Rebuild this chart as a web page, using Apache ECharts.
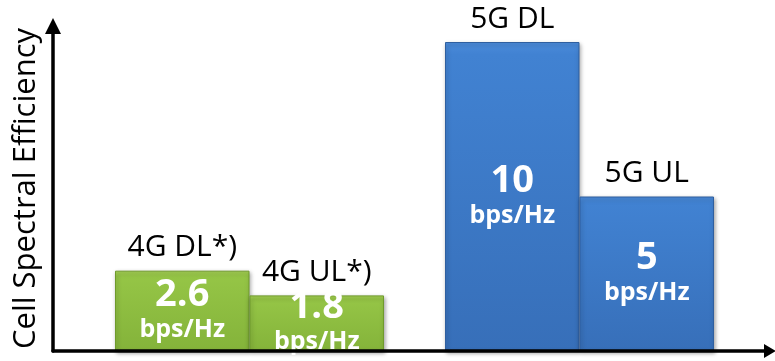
<!DOCTYPE html>
<html>
<head>
<meta charset="utf-8">
<script src="https://cdn.jsdelivr.net/npm/echarts@6/dist/echarts.min.js"></script>
<style>
  html, body { margin: 0; padding: 0; background: #fff; }
  #chart { width: 775px; height: 361px; }
</style>
</head>
<body>
<div id="chart"></div>
<script>
// Cell spectral efficiency, 4G vs 5G (bps/Hz)
const categories = ['4G DL*)', '4G UL*)', '5G DL', '5G UL'];
const efficiency = [2.6, 1.8, 10, 5];
const unit = 'bps/Hz';
const axisTitle = 'Cell Spectral Efficiency';

const FONT = 'Open Sans, DejaVu Sans, sans-serif';

const greenFill = new echarts.graphic.LinearGradient(0, 0, 0, 1, [
  { offset: 0, color: '#a6d255' },
  { offset: 0.07, color: '#95c546' },
  { offset: 1, color: '#84b33a' }
]);
const blueFill = new echarts.graphic.LinearGradient(0, 0, 0, 1, [
  { offset: 0, color: '#4c8cdb' },
  { offset: 0.04, color: '#4182d2' },
  { offset: 1, color: '#376fb9' }
]);

function hiddenCat(grid, data) {
  return { type: 'category', gridIndex: grid, data: data, show: false };
}
function hiddenVal(grid) {
  return { type: 'value', gridIndex: grid, min: 0, max: 10, show: false };
}

// on short bars, sit the value text on the x axis instead of hanging below it
function liftAboveAxis(params) {
  const barBottom = params.rect.y + params.rect.height + 3;
  const labelBottom = params.labelRect.y + params.labelRect.height;
  return { dy: Math.min(0, barBottom - labelBottom) };
}

function barPair(grid, names, vals, fill, edge) {
  return [
    {
      type: 'bar',
      xAxisIndex: grid, yAxisIndex: grid,
      data: vals,
      barCategoryGap: '0%',
      barGap: '-100%',
      itemStyle: {
        color: fill,
        borderColor: edge,
        borderWidth: 1,
        shadowColor: 'rgba(0,0,0,0.35)',
        shadowBlur: 4,
        shadowOffsetX: 1,
        shadowOffsetY: 2
      },
      label: {
        show: true,
        position: 'inside',
        formatter: p => '{v|' + p.value + '}\n{u|' + unit + '}',
        rich: {
          v: { color: '#fff', fontSize: 38, fontWeight: 'bold', fontFamily: FONT, lineHeight: 38 },
          u: { color: '#fff', fontSize: 25, fontWeight: 'bold', fontFamily: FONT, lineHeight: 31 }
        }
      },
      labelLayout: liftAboveAxis,
      z: 3
    },
    {
      type: 'bar',
      xAxisIndex: grid, yAxisIndex: grid,
      data: vals,
      barCategoryGap: '0%',
      barGap: '-100%',
      silent: true,
      itemStyle: { color: 'rgba(0,0,0,0)' },
      label: {
        show: true,
        position: 'top',
        distance: 8,
        formatter: p => names[p.dataIndex],
        color: '#000',
        fontSize: 30,
        fontFamily: FONT
      },
      z: 2
    }
  ];
}

const chart = echarts.init(document.getElementById('chart'), null, { renderer: 'canvas' });

chart.setOption({
  animation: false,
  backgroundColor: '#fff',
  grid: [
    { left: 115, right: 391, top: 42, bottom: 10 },
    { left: 445, right: 61, top: 42, bottom: 10 },
    { left: 53, right: 5, top: 26, bottom: 10 }
  ],
  xAxis: [
    hiddenCat(0, categories.slice(0, 2)),
    hiddenCat(1, categories.slice(2, 4)),
    {
      type: 'value', gridIndex: 2, min: 0, max: 1, z: 10,
      axisLine: { show: true, lineStyle: { color: '#000', width: 3.5 }, symbol: ['none', 'triangle'], symbolSize: [14, 12] },
      axisTick: { show: false }, axisLabel: { show: false }, splitLine: { show: false }
    }
  ],
  yAxis: [
    hiddenVal(0),
    hiddenVal(1),
    {
      type: 'value', gridIndex: 2, min: 0, max: 1, z: 10,
      name: axisTitle,
      nameLocation: 'middle',
      nameGap: 11,
      nameTextStyle: { color: '#000', fontSize: 31, fontFamily: FONT },
      axisLine: { show: true, lineStyle: { color: '#000', width: 3.5 }, symbol: ['none', 'triangle'], symbolSize: [16, 16] },
      axisTick: { show: false }, axisLabel: { show: false }, splitLine: { show: false }
    }
  ],
  series: [
    ...barPair(0, categories.slice(0, 2), efficiency.slice(0, 2), greenFill, '#6f9a2c'),
    ...barPair(1, categories.slice(2, 4), efficiency.slice(2, 4), blueFill, '#2f5f9f')
  ]
});
</script>
</body>
</html>
